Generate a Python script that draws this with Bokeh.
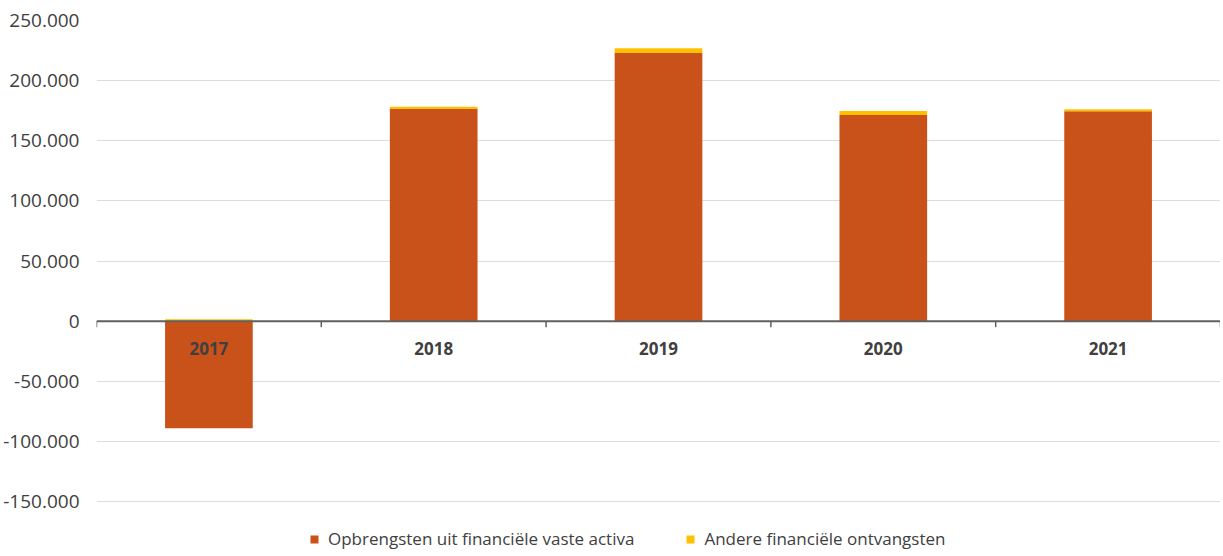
from bokeh.plotting import figure
from bokeh.models import Range1d, FixedTicker, Span, Legend, LegendItem
from bokeh.core.properties import value
from bokeh.embed import file_html
from bokeh.resources import INLINE

years = ["2017", "2018", "2019", "2020", "2021"]
opbrengsten = [-89000, 176500, 223000, 171500, 174500]
andere = [1500, 1700, 4000, 3300, 1700]
y_ticks = [-150000, -100000, -50000, 0, 50000, 100000, 150000, 200000, 250000]
y_labels = ["-150.000", "-100.000", "-50.000", "0", "50.000", "100.000", "150.000", "200.000", "250.000"]
series_names = ["Opbrengsten uit financiële vaste activa", "Andere financiële ontvangsten"]

ORANGE = "#C9521A"
YELLOW = "#FFC000"
FONT = "Open Sans"

x = [i + 0.5 for i in range(len(years))]
o_bottom = [0] * len(years)
o_top = opbrengsten
a_bottom = [max(v, 0) for v in opbrengsten]
a_top = [b + a for b, a in zip(a_bottom, andere)]

# extra room below the lowest tick for the legend (layout only)
y_lo = y_ticks[0] - 40700

p = figure(width=1220, height=550, output_backend="svg", toolbar_location=None,
           x_range=Range1d(0, len(years)), y_range=Range1d(y_lo, y_ticks[-1]),
           min_border_left=95, min_border_right=0, min_border_top=20, min_border_bottom=0)
p.outline_line_color = None
p.xaxis.visible = False
p.xgrid.visible = False

p.yaxis.ticker = FixedTicker(ticks=y_ticks)
p.yaxis.major_label_overrides = {t: l for t, l in zip(y_ticks, y_labels)}
p.yaxis.axis_line_color = None
p.yaxis.major_tick_line_color = None
p.yaxis.minor_tick_line_color = None
p.yaxis.major_tick_out = 0
p.yaxis.major_label_standoff = 17
p.yaxis.major_label_text_font = FONT
p.yaxis.major_label_text_font_size = "19px"
p.yaxis.major_label_text_color = "#404040"
p.ygrid.ticker = FixedTicker(ticks=y_ticks)
p.ygrid.grid_line_color = "#dcdcdc"
p.ygrid.grid_line_width = 1

r1 = p.vbar(x=x, bottom=o_bottom, top=o_top, width=0.39, fill_color=ORANGE, line_color=None)
r2 = p.vbar(x=x, bottom=a_bottom, top=a_top, width=0.39, fill_color=YELLOW, line_color=None)

# zero axis line with category boundary ticks
p.add_layout(Span(location=0, dimension="width", line_color="#5f5f5f", line_width=2))
bounds = list(range(len(years) + 1))
p.segment(x0=bounds, x1=bounds, y0=[0] * len(bounds), y1=[-5000] * len(bounds),
          line_color="#5f5f5f", line_width=1.5)

p.text(x=x, y=[0] * len(years), text=years, y_offset=27, text_align="center",
       text_baseline="middle", text_font=value(FONT), text_font_style="bold",
       text_font_size="17px", text_color="#404040")

legend = Legend(items=[LegendItem(label=series_names[0], renderers=[r1]),
                       LegendItem(label=series_names[1], renderers=[r2])],
                orientation="horizontal", location=(213, 0),
                label_text_font=FONT, label_text_font_size="17px", label_text_color="#404040",
                glyph_width=10, glyph_height=10, label_standoff=9, spacing=51,
                border_line_color=None, background_fill_alpha=0, padding=0, margin=0)
p.add_layout(legend)

open("out.html", "w").write(file_html(p, INLINE))
